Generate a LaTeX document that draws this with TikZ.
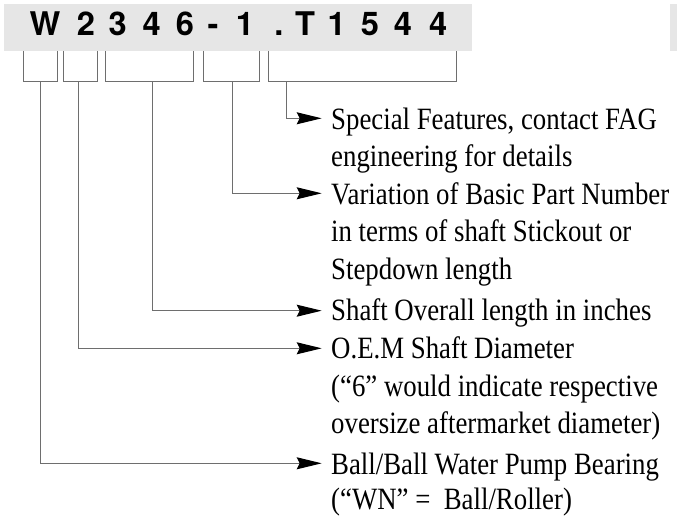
\documentclass[tikz,border=0pt]{standalone}
\usepackage{fontspec}
\setmainfont{Liberation Serif}
\newfontfamily\hdrfont{texgyreheros-bold.otf}
\newfontfamily\descfont[FakeStretch=0.865]{Liberation Serif}
\usetikzlibrary{arrows.meta}
\definecolor{bandgray}{RGB}{230,230,230}
\definecolor{linegray}{RGB}{110,110,110}
\tikzset{
  hdr/.style={font=\hdrfont\fontsize{32.6}{36}\selectfont, inner sep=0pt, anchor=base},
  desc/.style={font=\descfont\fontsize{31}{37}\selectfont, inner sep=0pt, anchor=base west},
  boxline/.style={draw=linegray, line width=1pt},
  conn/.style={draw=linegray, line width=1pt, -{Stealth[length=25pt,width=12pt,inset=3pt,color=black]}},
  seg/.style={inner sep=0pt, minimum height=30.7pt, draw=none}
}
\begin{document}
\begin{tikzpicture}[x=1pt,y=-1pt]
\useasboundingbox (0,0) rectangle (677,518);
\fill[bandgray] (4,4) rectangle (471.7,50.7);
\fill[bandgray] (670,4) rectangle (677,51);
% header characters
\foreach \ch/\xx [count=\i] in {W/45, 2/86, 3/117.7, 4/151.7, 6/185, -/213, 1/245, ./279, T/305, 1/336.7, 5/370, 4/403, 4/438.3}{
  \node[hdr] (h\i) at (\xx,36) {\ch};
}
% segment boxes
\node[seg, minimum width=34pt]   (b1) at (40.3,66.35) {};
\node[seg, minimum width=34.4pt] (b2) at (80.5,66.35) {};
\node[seg, minimum width=87.3pt] (b3) at (149.65,66.35) {};
\node[seg, minimum width=55.7pt] (b4) at (231.15,66.35) {};
\node[seg, minimum width=188.4pt] (b5) at (362.5,66.35) {};
\foreach \b in {b1,b2,b3,b4,b5}{
  \draw[boxline] (\b.north west) -- (\b.south west) -- (\b.south east) -- (\b.north east);
}
% descriptions
\node[desc] (d1a) at (331,129.5) {Special Features, contact FAG};
\node[desc] (d1b) at (331,167) {engineering for details};
\node[desc] (d2a) at (331,204.5) {Variation of Basic Part Number};
\node[desc] (d2b) at (331,242) {in terms of shaft Stickout or};
\node[desc] (d2c) at (331,279.5) {Stepdown length};
\node[desc] (d3a) at (331,321) {Shaft Overall length in inches};
\node[desc] (d4a) at (331,358.5) {O.E.M Shaft Diameter};
\node[desc] (d4b) at (331,396) {(“6” would indicate respective};
\node[desc] (d4c) at (331,433.5) {oversize aftermarket diameter)};
\node[desc] (d5a) at (331,474.5) {Ball/Ball Water Pump Bearing};
\node[desc] (d5b) at (331,509) {(“WN” =\ \ Ball/Roller)};
% arrow end points
\coordinate (e1) at (321.7,118.3);
\coordinate (e2) at (321.7,193.3);
\coordinate (e3) at (321.7,310.7);
\coordinate (e4) at (321.7,348.3);
\coordinate (e5) at (321.7,463.3);
% connectors
\draw[conn] ([xshift=-76.5pt]b5.south) |- (e1);
\draw[conn] ([xshift=1.2pt]b4.south) |- (e2);
\draw[conn] ([xshift=3pt]b3.south) |- (e3);
\draw[conn] ([xshift=-2.2pt]b2.south) |- (e4);
\draw[conn] (b1.south) |- (e5);
\end{tikzpicture}
\end{document}
